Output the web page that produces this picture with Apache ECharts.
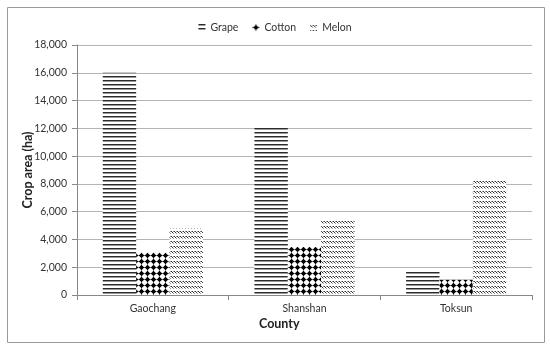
<!DOCTYPE html>
<html><head><meta charset="utf-8">
<script src="https://cdn.jsdelivr.net/npm/echarts@6/dist/echarts.min.js"></script>
<style>html,body{margin:0;padding:0;background:#fff}#c{width:550px;height:353px}</style>
</head><body><div id="c"></div>
<script>
const categories = ['Gaochang', 'Shanshan', 'Toksun'];
const grape = [16000, 12150, 1650];
const cotton = [3050, 3450, 1100];
const melon = [4800, 5350, 8300];
const yTicks = { min: 0, max: 18000, interval: 2000 };

function pattern(w, h, draw) {
  const c = document.createElement('canvas');
  c.width = w; c.height = h;
  const g = c.getContext('2d');
  g.fillStyle = '#fff'; g.fillRect(0, 0, w, h);
  draw(g);
  return { image: c, repeat: 'repeat' };
}
const grapeFill = pattern(4, 4, g => {
  g.fillStyle = '#2a2a2a'; g.fillRect(0, 0, 4, 1);
  g.fillStyle = '#9a9a9a'; g.fillRect(0, 1, 4, 1);
});
const cottonFill = pattern(6, 6, g => {
  g.fillStyle = '#777'; g.fillRect(0, 3, 6, 1); g.fillRect(3, 0, 1, 6);
  g.fillStyle = '#000';
  g.beginPath(); g.moveTo(3.5, 0.8); g.lineTo(6.2, 3.5); g.lineTo(3.5, 6.2); g.lineTo(0.8, 3.5); g.closePath(); g.fill();
});
const melonFill = pattern(3, 5, g => {
  g.fillStyle = '#333'; g.fillRect(0, 1, 1, 1); g.fillRect(1, 2, 1, 1);
  g.fillStyle = '#999'; g.fillRect(2, 3, 1, 1); g.fillRect(2, 1, 1, 1);
});

const font = 'Lato, "Open Sans", sans-serif';
const chart = echarts.init(document.getElementById('c'), null, { renderer: 'canvas' });
chart.setOption({
  animation: false,
  backgroundColor: '#fff',
  textStyle: { fontFamily: font },
  graphic: [
    { type: 'rect', shape: { x: 7.5, y: 7.5, width: 537, height: 335 }, style: { fill: 'none', stroke: '#9a9a9a', lineWidth: 1 }, silent: true },
    { type: 'text', left: 259, top: 317, style: { text: 'County', font: 'bold 12.5px ' + font, fill: '#222' } }
  ],
  legend: {
    top: 17, left: 'center', itemWidth: 7, itemHeight: 7, itemGap: 14,
    textStyle: { fontSize: 10.5, color: '#333', fontFamily: font },
    icon: 'rect',
    data: ['Grape', 'Cotton', 'Melon']
  },
  grid: { left: 77, right: 18, top: 45, bottom: 58 },
  xAxis: {
    type: 'category', data: categories,
    axisLine: { lineStyle: { color: '#888' } },
    axisTick: { show: true, alignWithLabel: false, length: 5, lineStyle: { color: '#888' } },
    axisLabel: { color: '#333', fontSize: 10.5, margin: 8, fontFamily: font },
    splitLine: { show: false }
  },
  yAxis: {
    type: 'value', min: yTicks.min, max: yTicks.max, interval: yTicks.interval,
    name: 'Crop area (ha)', nameLocation: 'middle', nameGap: 43, nameRotate: 90,
    nameMoveOverlap: false,
    nameTextStyle: { fontWeight: 'bold', fontSize: 12.5, color: '#222', fontFamily: font },
    axisLine: { show: true, lineStyle: { color: '#888' } },
    axisTick: { show: true, length: 5, lineStyle: { color: '#888' } },
    axisLabel: { color: '#333', fontSize: 10.5, margin: 10, fontFamily: font,
      formatter: v => v.toLocaleString('en-US') },
    splitLine: { lineStyle: { color: '#b5b5b5' } }
  },
  series: [
    { name: 'Grape', type: 'bar', data: grape, barGap: '0%', barCategoryGap: '34%', itemStyle: { color: grapeFill } },
    { name: 'Cotton', type: 'bar', data: cotton, itemStyle: { color: cottonFill } },
    { name: 'Melon', type: 'bar', data: melon, itemStyle: { color: melonFill } }
  ]
});
</script></body></html>
